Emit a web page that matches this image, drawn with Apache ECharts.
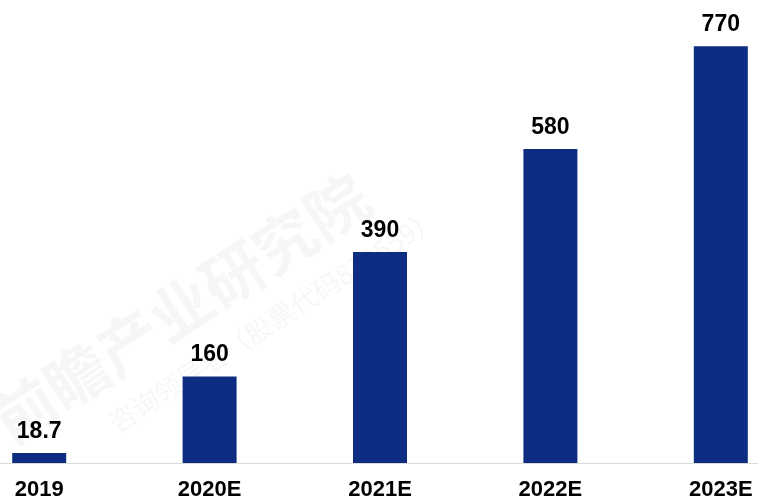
<!DOCTYPE html>
<html><head><meta charset="utf-8">
<script src="https://cdn.jsdelivr.net/npm/echarts@6/dist/echarts.min.js"></script>
<style>html,body{margin:0;padding:0;background:#fff}#c{width:758px;height:502px}</style>
</head><body><div id="c"></div>
<script>
var categories = ['2019', '2020E', '2021E', '2022E', '2023E'];
var values = [18.7, 160, 390, 580, 770];
var labelsText = ['18.7', '160', '390', '580', '770'];

var chart = echarts.init(document.getElementById('c'), null, {renderer: 'canvas'});
chart.setOption({
  animation: false,
  backgroundColor: '#ffffff',
  grid: {left: -46, right: -48, top: 30, bottom: 39, outerBoundsMode: 'none', containLabel: false},
  xAxis: {
    type: 'category', data: categories, boundaryGap: true,
    axisLine: {lineStyle: {color: '#d9d9d9', width: 1}},
    axisTick: {show: false},
    axisLabel: {color: '#000', fontSize: 22, fontWeight: 'bold', fontFamily: 'Liberation Sans, Arial', margin: 16}
  },
  yAxis: {type: 'value', min: 0, max: 800, show: false, splitLine: {show: false}},
  graphic: [{
    type: 'group', left: -18, top: 138, rotation: 33 * Math.PI / 180, silent: true,
    children: [
      {type: 'text', x: 0, y: 0, style: {text: '前瞻产业研究院', font: 'bold 62px "Noto Sans CJK SC"', fill: 'rgba(0,0,0,0.035)'}},
      {type: 'text', x: 95, y: 78, style: {text: '咨询领导者（股票代码839559）', font: '27px "Noto Sans CJK SC"', fill: 'rgba(0,0,0,0.035)'}}
    ]
  }],
  series: [{
    type: 'bar', data: values, barWidth: 54,
    itemStyle: {color: '#0c2d82'},
    label: {
      show: true, position: 'top', distance: 10,
      formatter: function (p) { return labelsText[p.dataIndex]; },
      color: '#000', fontSize: 23, fontWeight: 'bold', fontFamily: 'Liberation Sans, Arial'
    }
  }]
});
</script></body></html>
